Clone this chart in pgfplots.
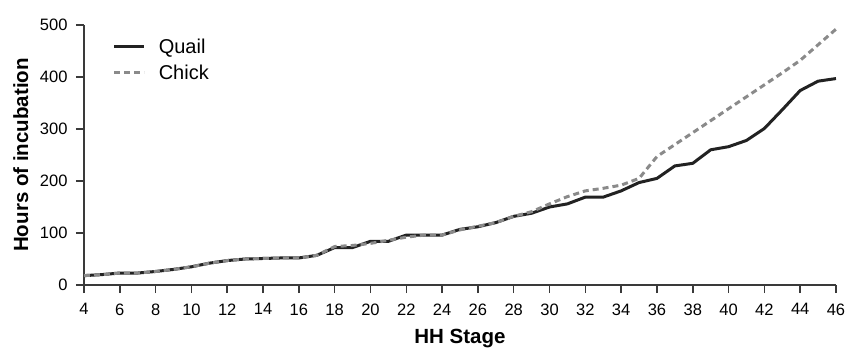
\documentclass[border=0pt]{standalone}
\usepackage{fontspec}
\setmainfont{Liberation Sans}
\usepackage{pgfplots}
\pgfplotsset{compat=1.18}
\definecolor{axgray}{HTML}{3A3A3A}
\definecolor{quail}{HTML}{222222}
\definecolor{chick}{HTML}{8A8A8A}
\begin{document}
\begin{tikzpicture}
\path[use as bounding box] (-84pt,-66pt) rectangle (763pt,285pt);
\begin{axis}[
  scale only axis,
  width=752pt, height=260pt,
  xmin=4, xmax=46, ymin=0, ymax=500,
  xtick={4,6,...,46},
  ytick={0,100,...,500},
  axis x line*=bottom, axis y line*=left,
  axis line style={axgray, line width=2pt},
  tick style={axgray, line width=1.5pt},
  tick align=outside,
  major tick length=8pt,
  /pgf/number format/assume math mode=true,
  tick label style={font=\fontsize{16.5}{19}\selectfont, black},
  xticklabel style={yshift=-7pt},
  yticklabel style={xshift=-5pt},
  xlabel={\bfseries HH Stage},
  ylabel={\bfseries Hours of incubation},
  label style={font=\fontsize{20.5}{24}\selectfont},
  xlabel style={at={(axis description cs:0.5,-0.205)}, anchor=center},
  ylabel style={at={(axis description cs:-0.084,0.5)}, anchor=center},
  legend style={at={(0.038,0.955)}, anchor=north west, draw=none, fill=none,
    font=\fontsize{20}{24}\selectfont, row sep=6pt, inner sep=0pt,
    nodes={inner sep=2pt}},
  legend cell align=left,
  legend image code/.code={\draw[#1] (0pt,0pt) -- (30pt,0pt);},
  clip=false,
]
\addplot[quail, line width=3pt, line join=round] coordinates {
(4,18) (5,20) (6,23) (7,23) (8,26) (9,30) (10,35) (11,42) (12,47) (13,50)
(14,51) (15,52) (16,52) (17,57) (18,72) (19,72) (20,84) (21,84) (22,96) (23,96)
(24,96) (25,107) (26,112) (27,120) (28,132) (29,138) (30,150) (31,156) (32,169) (33,169)
(34,181) (35,197) (36,205) (37,229) (38,234) (39,260) (40,266) (41,278) (42,301) (43,337)
(44,374) (45,392) (46,397)};
\addlegendentry{\hspace{11pt}Quail}
\addplot[chick, line width=3pt, dash pattern=on 6pt off 4pt, line join=round] coordinates {
(4,18) (5,20) (6,23) (7,23) (8,26) (9,30) (10,35) (11,42) (12,47) (13,50)
(14,51) (15,52) (16,52) (17,57) (18,74) (19,76) (20,80) (21,86) (22,92) (23,96)
(24,96) (25,106) (26,113) (27,120) (28,132) (29,141) (30,156) (31,170) (32,181) (33,186)
(34,192) (35,205) (36,247) (37,270) (38,293) (39,316) (40,339) (41,362) (42,385) (43,408)
(44,432) (45,462) (46,492)};
\addlegendentry{\hspace{11pt}Chick}
\end{axis}
\end{tikzpicture}
\end{document}
